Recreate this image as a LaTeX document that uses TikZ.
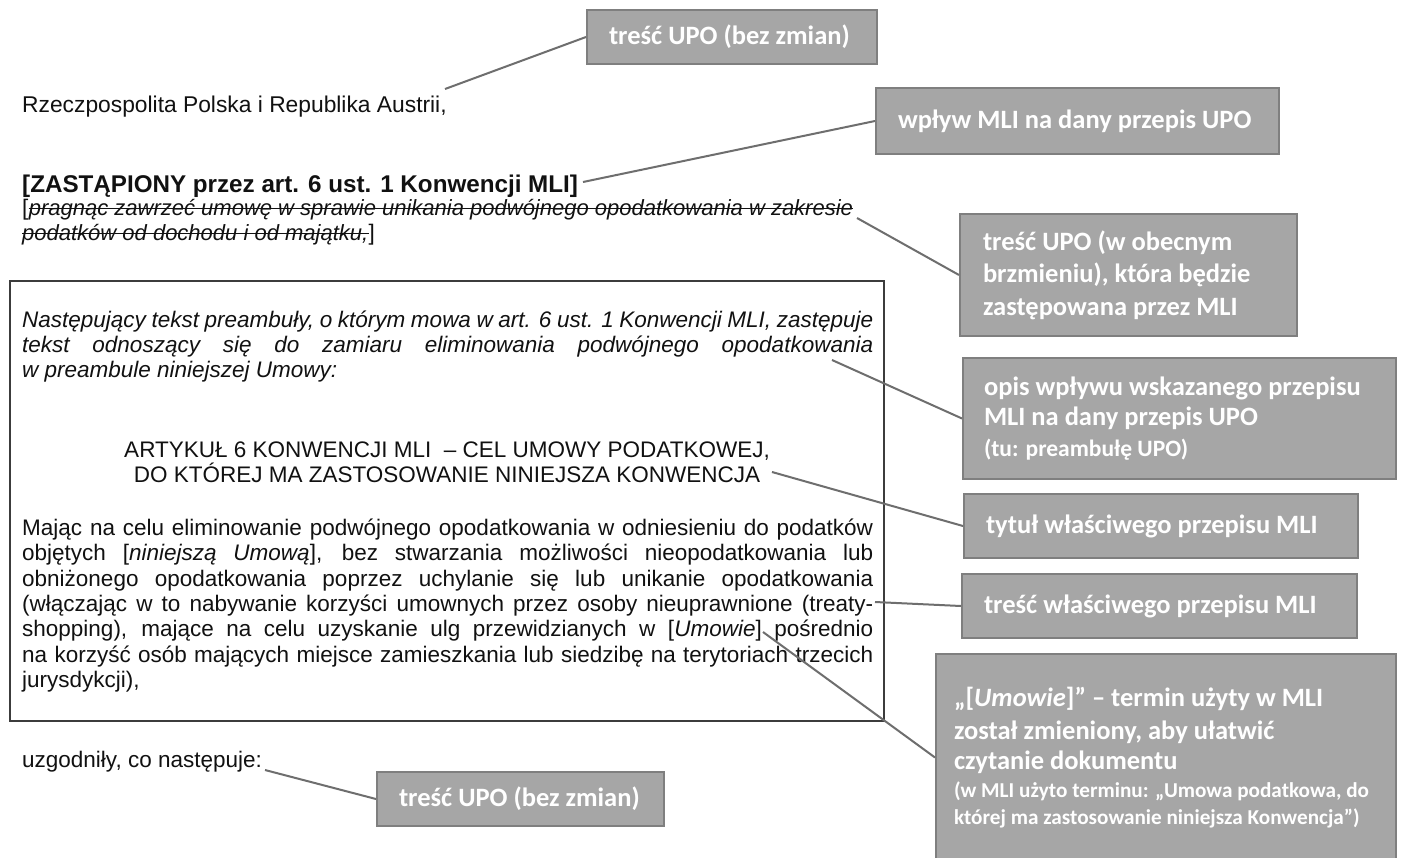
\documentclass[tikz,border=0pt]{standalone}
\usepackage{fontspec}
\setmainfont{Liberation Sans}
\IfFontExistsTF{Carlito Bold}{%
  \IfFontExistsTF{Carlito Bold Italic}{%
    \newfontfamily\boxfont{Carlito Bold}[ItalicFont={Carlito Bold Italic}]}{%
    \newfontfamily\boxfont{Carlito Bold}}}{%
  \newfontfamily\boxfont{Carlito}[FakeBold=2.5]}
\definecolor{boxfill}{HTML}{A6A6A6}
\definecolor{boxline}{HTML}{7F7F7F}
\definecolor{connline}{HTML}{6E6E6E}
\definecolor{framecol}{HTML}{3C3C3C}
\definecolor{txt}{HTML}{111111}
\newcommand{\docsize}{\fontsize{22.5}{25}\selectfont}
\newcommand{\smallbox}{\fontsize{21.2}{27}\selectfont}
\newcommand{\smallboxc}{\fontsize{23.5}{27}\selectfont}
\tikzset{
  doc/.style={anchor=base west, inner sep=0pt, font=\docsize, text=txt},
  docb/.style={anchor=base west, inner sep=0pt, font=\fontsize{24.2}{27}\selectfont\bfseries, text=txt},
  docc/.style={anchor=base, inner sep=0pt, font=\docsize, text=txt},
  strikeline/.style={draw=txt, line width=1.1pt},
  callout/.style={draw=boxline, fill=boxfill, line width=2pt, text=white,
    font=\boxfont\fontsize{26.5}{32.5}\selectfont, align=flush left,
    anchor=north west, inner ysep=0pt},
  conn/.style={draw=connline, line width=2pt}
}
\newcommand{\jline}[1]{\makebox[851pt][s]{#1}}
\begin{document}
\begin{tikzpicture}[x=1pt,y=-1pt]
\useasboundingbox[fill=white] (0,0) rectangle (1405,857);

% framed MLI section
\node[draw=framecol, line width=1.5pt, minimum width=874pt, minimum height=440pt,
      anchor=north west, inner sep=0pt] (frame) at (9,280) {};

% document text
\node[doc, font=\fontsize{22.8}{25}\selectfont] (rz) at (22,112) {Rzeczpospolita Polska i Republika Austrii,};
\node[docb] (zast) at (22,192) {[ZASTĄPIONY przez art. 6 ust. 1 Konwencji MLI]};
\node[doc] (s1a) at (22,215) {[};
\node[doc, font=\fontsize{22}{25}\selectfont] (s1) at (s1a.base east) {\itshape pragnąc zawrzeć umowę w sprawie unikania podwójnego opodatkowania w zakresie};
\node[doc, font=\fontsize{22}{25}\selectfont] (s2) at (22,240) {\itshape podatków od dochodu i od majątku,};
\node[doc] (s2b) at (s2.base east) {]};
\draw[strikeline] ([yshift=6.5pt]s1.base west) -- ([yshift=6.5pt]s1.base east);
\draw[strikeline] ([yshift=6.5pt]s2.base west) -- ([yshift=6.5pt]s2.base east);

\node[doc] (i1) at (22,327) {\itshape\jline{Następujący tekst preambuły, o którym mowa w art. 6 ust. 1 Konwencji MLI, zastępuje}};
\node[doc] (i2) at (22,352) {\itshape\jline{tekst odnoszący się do zamiaru eliminowania podwójnego opodatkowania}};
\node[doc] (i3) at (22,377) {\itshape w preambule niniejszej Umowy:};

\node[docc] (h1) at (447,457) {ARTYKUŁ 6 KONWENCJI MLI~ – CEL UMOWY PODATKOWEJ,};
\node[docc] (h2) at (447,482) {DO KTÓREJ MA ZASTOSOWANIE NINIEJSZA KONWENCJA};

\node[doc] (b1) at (22,535) {\jline{Mając na celu eliminowanie podwójnego opodatkowania w odniesieniu do podatków}};
\node[doc] (b2) at (22,560) {\jline{objętych [\textit{niniejszą Umową}], bez stwarzania możliwości nieopodatkowania lub}};
\node[doc] (b3) at (22,586) {\jline{obniżonego opodatkowania poprzez uchylanie się lub unikanie opodatkowania}};
\node[doc] (b4) at (22,611) {\jline{(włączając w to nabywanie korzyści umownych przez osoby nieuprawnione (treaty-}};
\node[doc] (b5) at (22,636) {\jline{shopping), mające na celu uzyskanie ulg przewidzianych w [\textit{Umowie}] pośrednio}};
\node[doc] (b6) at (22,662) {\jline{na korzyść osób mających miejsce zamieszkania lub siedzibę na terytoriach trzecich}};
\node[doc] (b7) at (22,687) {jurysdykcji),};

\node[doc] (uzg) at (22,767) {uzgodniły, co następuje:};

% callout boxes
\node[callout, minimum width=290pt, minimum height=54pt, text width=246pt, inner xsep=22pt] (boxA) at (586,9) {treść UPO (bez zmian)};
\node[callout, minimum width=403pt, minimum height=66pt, text width=359pt, inner xsep=22pt] (boxW) at (875,87) {wpływ MLI na dany przepis UPO};
\node[callout, minimum width=337pt, minimum height=122pt, text width=291pt, inner xsep=23pt] (boxB) at (959,213) {treść UPO (w obecnym\\ brzmieniu), która będzie\\ zastępowana przez MLI};
\node[callout, minimum width=433pt, minimum height=121pt, text width=391pt, inner xsep=21pt] (boxC) at (962,357) {opis wpływu wskazanego przepisu\\[-2.5pt] MLI na dany przepis UPO\\[-1.5pt] {\smallboxc (tu: preambułę UPO)}};
\node[callout, minimum width=394pt, minimum height=64pt, text width=350pt, inner xsep=22pt] (boxD) at (963,493) {tytuł właściwego przepisu MLI};
\node[callout, minimum width=395pt, minimum height=64pt, text width=351pt, inner xsep=22pt] (boxE) at (961,573) {treść właściwego przepisu MLI};
\node[callout, minimum width=460pt, minimum height=207pt, text width=424pt, inner xsep=18pt] (boxF) at (935,653) {„[\textit{Umowie}]” – termin użyty w MLI\\[1pt] został zmieniony, aby ułatwić\\[-2.5pt] czytanie dokumentu\\[-4.5pt] {\smallbox (w MLI użyto terminu: „Umowa podatkowa, do}\\[-5.5pt] {\smallbox której ma zastosowanie niniejsza Konwencja”)}};
\node[callout, minimum width=287pt, minimum height=54pt, text width=243pt, inner xsep=22pt] (boxU) at (376,771) {treść UPO (bez zmian)};

% connector start points
\coordinate (pA) at (445,89);
\coordinate (pW) at (583,182);
\coordinate (pB) at (857,218);
\coordinate (pC) at (832,360);
\coordinate (pD) at (772,472);
\coordinate (pE) at (875,602);
\coordinate (pF) at (763,632);
\coordinate (pU) at (265,770);

\draw[conn] (pA) -- (boxA.west);
\draw[conn] (pW) -- (boxW.west);
\draw[conn] (pB) -- (boxB.west);
\draw[conn] (pC) -- (boxC.west);
\draw[conn] (pD) -- (boxD.west);
\draw[conn] (pE) -- (boxE.west);
\draw[conn] (pF) -- (boxF.west);
\draw[conn] (pU) -- (boxU.west);
\end{tikzpicture}
\end{document}
